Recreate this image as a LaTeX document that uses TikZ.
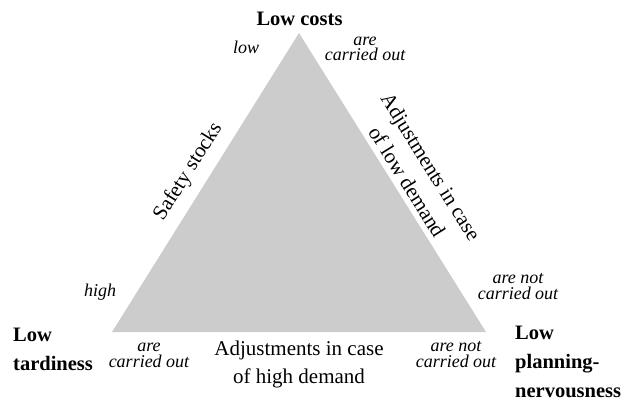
\documentclass[tikz,border=0pt]{standalone}
\usepackage{fontspec}
\setmainfont{Liberation Serif}
\usepackage{tikz}
\usetikzlibrary{positioning}

\begin{document}
\begin{tikzpicture}[x=1pt, y=-1pt, corner/.style={font=\fontsize{20.5}{29}\selectfont\bfseries, align=left, anchor=base west, inner sep=0pt}, side/.style={font=\fontsize{21}{28}\selectfont, align=center}, note/.style={font=\fontsize{18}{15.5}\selectfont\itshape, align=center, anchor=base, inner sep=0pt}]
        \useasboundingbox (0,0) rectangle (623,403);
        \coordinate (A) at (299,33);
        \coordinate (B) at (112,332);
        \coordinate (C) at (486,332);
        \fill[gray!40] (A) -- (C) -- (B) -- cycle;
        \path (B) -- (A) node[side, midway, sloped, above=7pt] (stocks) {Safety stocks};
        \path (A) -- (C) node[side, pos=0.52, sloped, above=2pt] (lowdemand) {Adjustments in case\\of low demand};
        \node[corner, anchor=base, align=center] at (299.5,26) (costs) {Low costs};
        \node[corner] at (13,370) (tardiness) {Low\\tardiness};
        \node[corner] at (515,397) (nervous) {Low\\planning-\\nervousness};
        \node[side, anchor=base] at (299,383) (highdemand) {Adjustments in case\\of high demand};
        \node[note] at (246,54) (low) {low};
        \node[note] at (100,296) (high) {high};
        \node[note] at (365,61) (lowdone) {are\\carried out};
        \node[note] at (518,299) (lownot) {are not\\carried out};
        \node[note] at (149,367) (highdone) {are\\carried out};
        \node[note] at (456,367) (highnot) {are not\\carried out};
\end{tikzpicture}
\end{document}
